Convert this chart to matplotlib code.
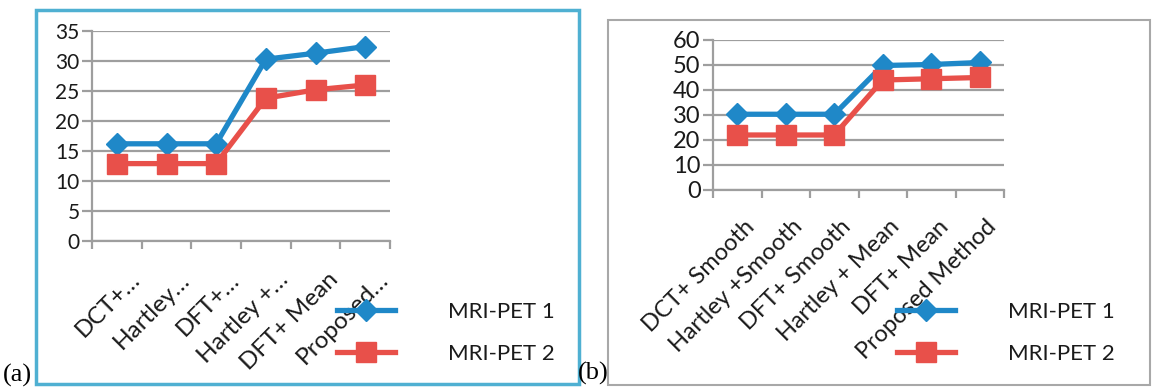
import matplotlib
matplotlib.use('Agg')
import matplotlib.pyplot as plt
from matplotlib.patches import Rectangle
from matplotlib.transforms import ScaledTranslation

plt.rcParams['font.family'] = ['Lato', 'DejaVu Sans']

# data
cats_a = ['DCT+…', 'Hartley…', 'DFT+…', 'Hartley +…', 'DFT+ Mean', 'Proposed…']
pet1_a = [16.2, 16.2, 16.2, 30.3, 31.3, 32.4]
pet2_a = [12.9, 12.9, 12.9, 23.8, 25.2, 26.0]

cats_b = ['DCT+ Smooth', 'Hartley +Smooth', 'DFT+ Smooth', 'Hartley + Mean',
          'DFT+ Mean', 'Proposed Method']
pet1_b = [30.3, 30.3, 30.3, 49.8, 50.2, 51.0]
pet2_b = [22.0, 22.0, 22.0, 44.0, 44.5, 45.0]

series_names = ['MRI-PET 1', 'MRI-PET 2']

W, H = 1152, 387
DPI = 100
BLUE = '#1f88c8'
RED = '#e8504a'
GRID = '#9e9e9e'
TXT = '#1a1a1a'

fig = plt.figure(figsize=(W / DPI, H / DPI), dpi=DPI)


def px_axes(x0, x1, y_top, y_bot):
    # pixel box -> figure fraction
    return fig.add_axes([x0 / W, (H - y_bot) / H, (x1 - x0) / W, (y_bot - y_top) / H])


def px_rect(x0, y0, x1, y1, color, lw):
    fig.patches.append(Rectangle((x0 / W, (H - y1) / H), (x1 - x0) / W, (y1 - y0) / H,
                                 transform=fig.transFigure, fill=False,
                                 edgecolor=color, linewidth=lw, zorder=0))


def draw_panel(ax, cats, y1, y2, ymax, step, ytick_fs, cat_fs, lab_dx, lab_dy):
    n = len(cats)
    xs = [i + 0.5 for i in range(n)]
    ax.plot(xs, y1, color=BLUE, lw=3.8, marker='D', ms=11.5, mec=BLUE,
            label=series_names[0], zorder=3, solid_joinstyle='round')
    ax.plot(xs, y2, color=RED, lw=3.8, marker='s', ms=14, mec=RED,
            label=series_names[1], zorder=4, solid_joinstyle='round')
    ax.set_xlim(0, n)
    ax.set_ylim(0, ymax)
    ax.set_yticks(range(0, ymax + 1, step))
    ax.set_xticks(range(n + 1))
    ax.set_xticklabels([])
    ax.yaxis.grid(True, color=GRID, lw=1.6)
    ax.set_axisbelow(True)
    for s in ['top', 'right']:
        ax.spines[s].set_visible(False)
    for s in ['left', 'bottom']:
        ax.spines[s].set_color(GRID)
        ax.spines[s].set_linewidth(1.6)
    ax.tick_params(axis='y', length=7, width=1.6, color=GRID, pad=2,
                   labelsize=ytick_fs, labelcolor=TXT)
    ax.tick_params(axis='x', length=6, width=1.6, color=GRID)
    off = ScaledTranslation(lab_dx / DPI, -lab_dy / DPI, fig.dpi_scale_trans)
    for x, c in zip(xs, cats):
        ax.text(x, 0, c, transform=ax.get_xaxis_transform() + off,
                rotation=45, rotation_mode='anchor', ha='right', va='top',
                fontsize=cat_fs, color=TXT)


# panel (a)
px_rect(36, 10, 579, 384, '#4fb0d2', 2.5)
ax_a = px_axes(92, 390, 31, 241)
draw_panel(ax_a, cats_a, pet1_a, pet2_a, 35, 5, 15, 17.5, 12, 28)
fig.legend(*ax_a.get_legend_handles_labels(), loc='center left',
           bbox_to_anchor=(337 / W, (H - 333) / H), frameon=False,
           fontsize=16, handlelength=2.6, handletextpad=2.4,
           labelspacing=1.0, borderpad=0, borderaxespad=0, labelcolor=TXT)
fig.text(3 / W, (H - 375) / H, '(a)', family='Liberation Serif', fontsize=19,
         va='center', ha='left', color='black')

# panel (b)
px_rect(608, 20, 1150, 385, '#a8a8a8', 1.5)
ax_b = px_axes(713, 1004, 40, 190)
draw_panel(ax_b, cats_b, pet1_b, pet2_b, 60, 10, 17, 17, 6, 26)
fig.legend(*ax_b.get_legend_handles_labels(), loc='center left',
           bbox_to_anchor=(897 / W, (H - 333) / H), frameon=False,
           fontsize=16, handlelength=2.6, handletextpad=2.4,
           labelspacing=1.0, borderpad=0, borderaxespad=0, labelcolor=TXT)
fig.text(578 / W, (H - 373) / H, '(b)', family='Liberation Serif', fontsize=19,
         va='center', ha='left', color='black')

fig.savefig('out.png', dpi=DPI)
